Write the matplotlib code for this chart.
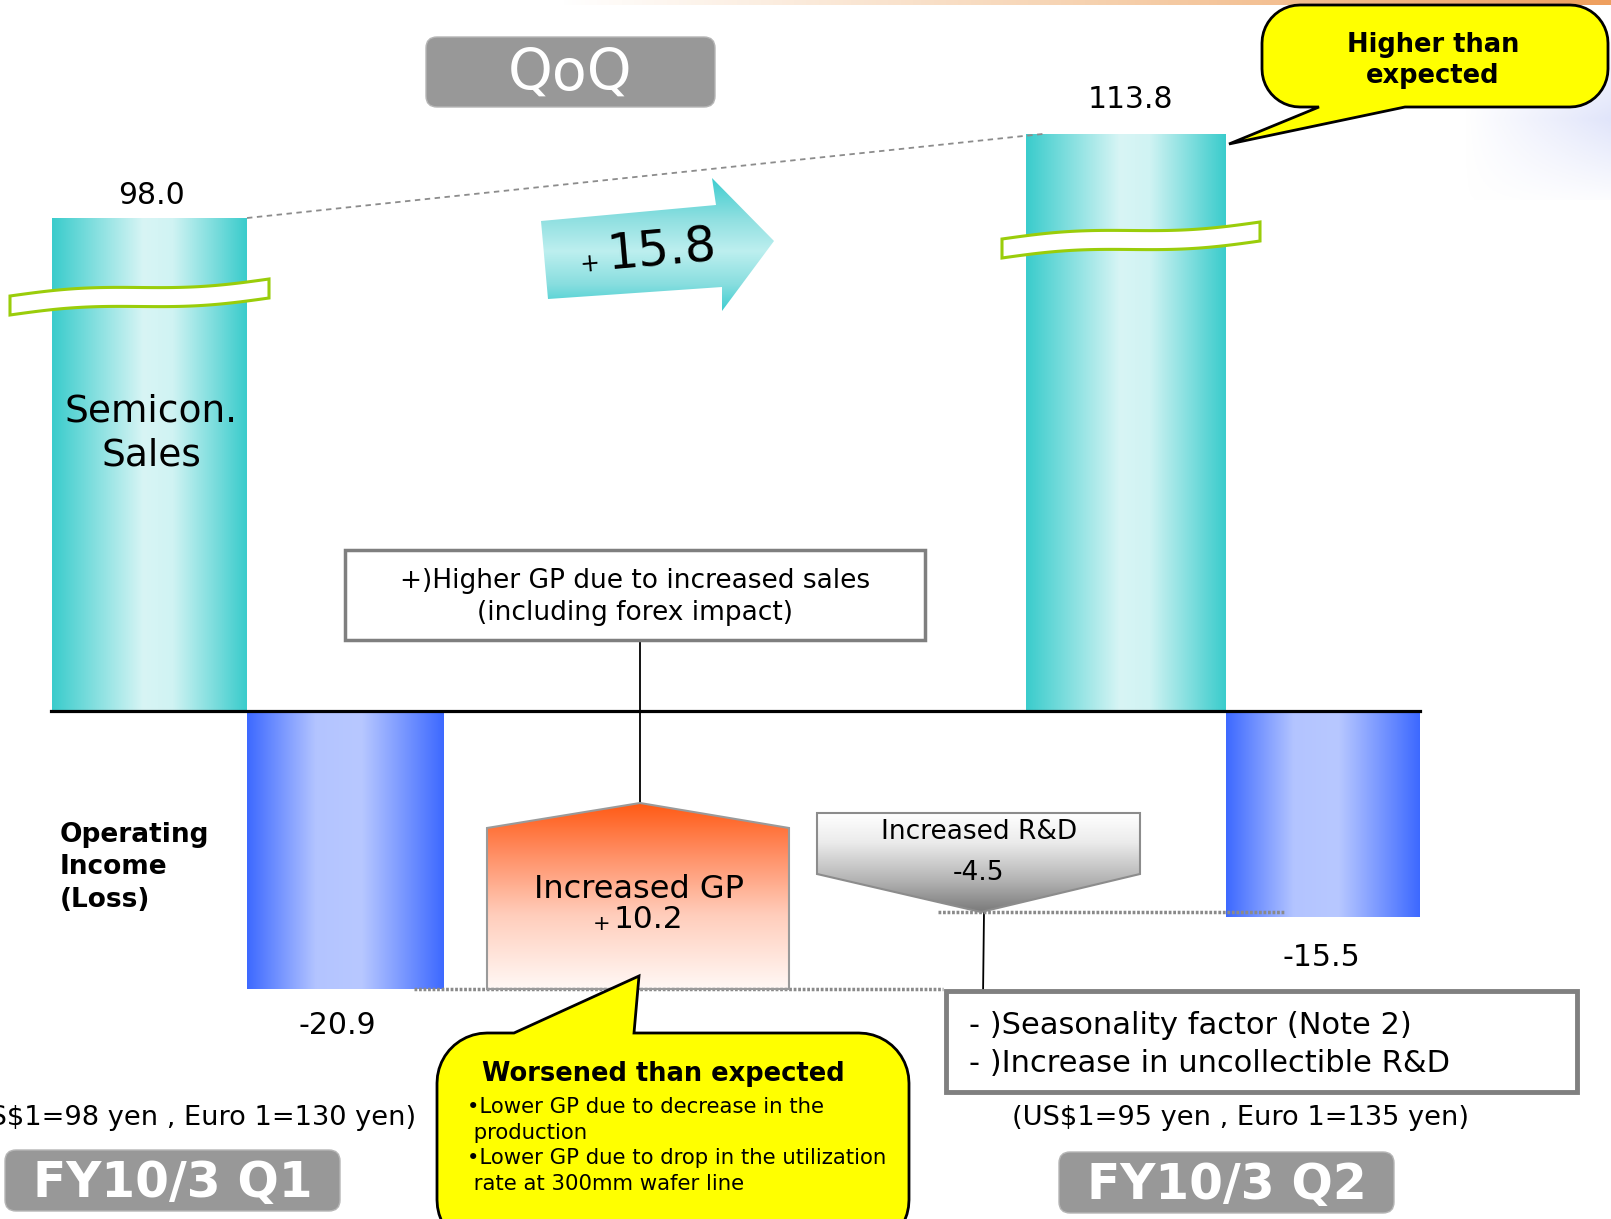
import numpy as np
import matplotlib
matplotlib.use("Agg")
import matplotlib.pyplot as plt
from matplotlib.colors import LinearSegmentedColormap
from matplotlib.patches import Polygon, Rectangle, FancyBboxPatch

# ---- data (100 million yen) ----
periods = ["FY10/3 Q1", "FY10/3 Q2"]
sales = np.array([98.0, 113.8])
op_income = np.array([-20.9, -15.5])
sales_change = 15.8
gp_change = 10.2
rd_change = -4.5
fx_rates = ["(US$1=98 yen , Euro 1=130 yen)", "(US$1=95 yen , Euro 1=135 yen)"]
gp_note = ["+)Higher GP due to increased sales", "(including forex impact)"]
rd_note = ["- )Seasonality factor (Note 2)", "- )Increase in uncollectible R&D"]
worse_bullets = ["\u2022Lower GP due to decrease in the", " production",
                 "\u2022Lower GP due to drop in the utilization", " rate at 300mm wafer line"]

W, H = 1611, 1219
BASE_Y = 711          # zero line (pixels)
K_OP = 13.3           # px per unit, operating income
K_SALES = 5.32        # px per unit above the break
SALES_H0 = 493        # px height of first sales bar (broken axis)

fig = plt.figure(figsize=(W / 100, H / 100), dpi=100)
ax = fig.add_axes([0, 0, 1, 1])
ax.set_xlim(0, W)
ax.set_ylim(H, 0)
ax.axis("off")


def grad(patch, stops, x0, x1, y0, y1, horiz=True, z=2):
    cmap = LinearSegmentedColormap.from_list("g", stops)
    v = np.linspace(0, 1, 256)
    arr = v[None, :] if horiz else v[:, None]
    im = ax.imshow(arr, cmap=cmap, extent=(x0, x1, y1, y0), aspect="auto",
                   interpolation="bilinear", zorder=z)
    im.set_clip_path(patch)


def rounded(x0, y0, x1, y1, r, tail=None, edge="top"):
    pts = []
    def arc(cx, cy, a0, a1):
        for a in np.radians(np.linspace(a0, a1, 12)):
            pts.append((cx + r * np.cos(a), cy + r * np.sin(a)))
    arc(x0 + r, y0 + r, 180, 270)
    if tail and edge == "top":
        pts += [(tail[0], y0), tail[2], (tail[1], y0)]
    arc(x1 - r, y0 + r, 270, 360)
    arc(x1 - r, y1 - r, 0, 90)
    if tail and edge == "bottom":
        pts += [(tail[1], y1), tail[2], (tail[0], y1)]
    arc(x0 + r, y1 - r, 90, 180)
    return pts


def break_band(xl, xr, yl, yr, th):
    t = np.linspace(0, 1, 80)
    x = xl + (xr - xl) * t
    ytop = yl + (yr - yl) * (t + 0.18 * np.sin(2 * np.pi * t))
    pts = list(zip(x, ytop)) + list(zip(x[::-1], ytop[::-1] + th))
    ax.add_patch(Polygon(pts, closed=True, fc="white", ec="#9ACD0A", lw=2.2, zorder=4))


# background decoration at the top
top = np.linspace(0, 1, 256)[None, :]
ax.imshow(top, cmap=LinearSegmentedColormap.from_list("o", ["#FFFFFF", "#F6D2B0", "#EE9F5E"]),
          extent=(560, W, 5, 0), aspect="auto", zorder=0)
rgba = np.zeros((100, 100, 4))
rgba[..., :3] = [0.80, 0.83, 0.97]
yy, xx = np.mgrid[0:1:100j, 0:1:100j]
rgba[..., 3] = np.clip(xx * 1.3 - 0.3, 0, 1) * np.clip(1 - np.abs(yy - 0.55) * 2, 0, 1) * 0.6
ax.imshow(rgba, extent=(1420, W, 200, 20), aspect="auto", zorder=0)

# ---- sales bars (broken axis) ----
sales_px = SALES_H0 + (sales - sales[0]) * K_SALES
cyan = [(0, "#3ACCCC"), (0.47, "#D8F5F5"), (0.62, "#D0F3F3"), (1, "#3ACCCC")]
bars = ax.bar([52, 1026], -sales_px, width=[195, 200], bottom=BASE_Y, align="edge",
              color="none", lw=0, zorder=2)
for b in bars:
    x0, w, y, h = b.get_x(), b.get_width(), b.get_y(), b.get_height()
    grad(b, cyan, x0, x0 + w, y + h, y)

# ---- operating income bars ----
blue = [(0, "#3D69FF"), (0.35, "#B3C4FF"), (0.58, "#B8C8FF"), (1, "#3D69FF")]
obars = ax.bar([247, 1226], -op_income * K_OP, width=[197, 194], bottom=BASE_Y, align="edge",
               color="none", lw=0, zorder=2)
for b in obars:
    x0, w, y, h = b.get_x(), b.get_width(), b.get_y(), b.get_height()
    grad(b, blue, x0, x0 + w, y, y + h)

ax.plot([51, 1420], [BASE_Y, BASE_Y], color="black", lw=2.3, zorder=3)

break_band(10, 269, 296, 279, 19)
break_band(1002, 1260, 239, 222, 19)

# dashed link between sales tops
ax.plot([52 + 195, 1043], [BASE_Y - sales_px[0], BASE_Y - sales_px[1]],
        color="#8C8C8C", lw=1.3, ls=(0, (3, 2.5)), zorder=3)

# value labels
for x, y, s in [(152, 195, f"{sales[0]:.1f}"), (1130, 99, f"{sales[1]:.1f}"),
                (337, 1025, f"{op_income[0]:.1f}"), (1321, 958, f"{op_income[1]:.1f}")]:
    ax.text(x, y, s, fontsize=21.5, ha="center", va="center", zorder=6)

ax.text(151, 412, "Semicon.", fontsize=27, ha="center", va="center", zorder=6)
ax.text(151, 456, "Sales", fontsize=27, ha="center", va="center", zorder=6)
for i, s in enumerate(["Operating", "Income", "(Loss)"]):
    ax.text(60, 835 + i * 32.5, s, fontsize=19, fontweight="bold", ha="left", va="center", zorder=6)

# QoQ and period tags
for (x0, y0, x1, y1), s, fs, fw in [((426, 37, 715, 107), "QoQ", 41, "normal"),
                                    ((5, 1150, 340, 1211), periods[0], 35, "bold"),
                                    ((1059, 1152, 1394, 1213), periods[1], 35, "bold")]:
    ax.add_patch(FancyBboxPatch((x0, y0), x1 - x0, y1 - y0, boxstyle="round,pad=0,rounding_size=11",
                                fc="#989898", ec="#B5B5B5", lw=1, zorder=5))
    ax.text((x0 + x1) / 2, (y0 + y1) / 2 + 2, s, fontsize=fs, fontweight=fw, color="white",
            ha="center", va="center", zorder=6)

# +15.8 arrow
arrow = Polygon([(541, 221), (716, 205), (712, 178), (774, 241), (722, 311), (722, 287), (548, 299)],
                closed=True, fc="none", lw=0, zorder=3)
ax.add_patch(arrow)
grad(arrow, [(0, "#3ECDD0"), (0.3, "#8EDFE0"), (0.55, "#BDEFEF"), (0.8, "#88DEDF"), (1, "#3ECDD0")],
     541, 774, 178, 311, horiz=False, z=3)
ax.text(662, 251, f"{sales_change:.1f}", fontsize=35.5, rotation=5, rotation_mode="anchor",
        ha="center", va="center", zorder=6)
ax.text(590, 264, "+", fontsize=17, rotation=5, ha="center", va="center", zorder=6)

# GP note box and connector
ax.add_patch(Rectangle((345, 550), 580, 90, fc="white", ec="#7F7F7F", lw=2.5, zorder=5))
ax.text(635, 581, gp_note[0], fontsize=19, ha="center", va="center", zorder=6)
ax.text(635, 613, gp_note[1], fontsize=19, ha="center", va="center", zorder=6)
ax.plot([640, 640], [640, 803], color="black", lw=1.3, zorder=3)

# GP step (pentagon)
gp_bottom = BASE_Y - op_income[0] * K_OP
gp = Polygon([(487, gp_bottom), (487, 828), (640, 803), (789, 828), (789, gp_bottom)],
             closed=True, fc="none", ec="#9A9A9A", lw=1.5, zorder=4)
ax.add_patch(gp)
grad(gp, [(0, "#FF5A14"), (0.25, "#FF8A5E"), (0.6, "#FFCDBB"), (1, "#FFF8F5")],
     487, 789, 803, gp_bottom, horiz=False, z=3)
ax.text(639, 890, "Increased GP", fontsize=23, ha="center", va="center", zorder=6)
ax.text(648, 920, f"{gp_change:.1f}", fontsize=22.5, ha="center", va="center", zorder=6)
ax.text(602, 924, "+", fontsize=15, ha="center", va="center", zorder=6)

# R&D step (down arrow)
rd = Polygon([(817, 813), (1140, 813), (1140, 874), (981, 912), (817, 874)],
             closed=True, fc="none", ec="#8C8C8C", lw=1.5, zorder=4)
ax.add_patch(rd)
grad(rd, [(0, "#FFFFFF"), (0.3, "#EBEBEB"), (0.7, "#B0B0B0"), (1, "#7A7A7A")],
     817, 1140, 813, 912, horiz=False, z=3)
ax.text(979, 832, "Increased R&D", fontsize=19, ha="center", va="center", zorder=6)
ax.text(979, 873, f"{rd_change:.1f}", fontsize=19, ha="center", va="center", zorder=6)
ax.plot([984, 983], [912, 997], color="black", lw=1.3, zorder=3)

# dotted level lines
ax.plot([414, 943], [gp_bottom, gp_bottom], color="#8A8A8A", lw=2.5, ls=(0, (0.8, 0.5)), zorder=3)
ax.plot([938, 1284], [912, 912], color="#8A8A8A", lw=2.5, ls=(0, (0.8, 0.5)), zorder=3)

# R&D note box
ax.add_patch(Rectangle((946, 991), 631, 101, fc="white", ec="#808080", lw=3.5, zorder=5))
ax.text(969, 1025, rd_note[0], fontsize=22, ha="left", va="center", zorder=6)
ax.text(969, 1063, rd_note[1], fontsize=22, ha="left", va="center", zorder=6)

# exchange rates
ax.text(416, 1118, fx_rates[0], fontsize=19.6, ha="right", va="center", zorder=6)
ax.text(1241, 1118, fx_rates[1], fontsize=19.6, ha="center", va="center", zorder=6)

# callouts
c1 = rounded(1262, 5, 1608, 107, 38, tail=(1319, 1405, (1229, 144)), edge="bottom")
ax.add_patch(Polygon(c1, closed=True, fc="#FFFF00", ec="black", lw=2, zorder=5))
ax.text(1433, 45, "Higher than", fontsize=18.5, fontweight="bold", ha="center", va="center", zorder=6)
ax.text(1433, 76, "expected", fontsize=18.5, fontweight="bold", ha="center", va="center", zorder=6)

c2 = rounded(437, 1033, 909, 1250, 50, tail=(514, 634, (639, 976)), edge="top")
ax.add_patch(Polygon(c2, closed=True, fc="#FFFF00", ec="black", lw=2, zorder=5))
ax.text(663, 1074, "Worsened than expected", fontsize=18.5, fontweight="bold",
        ha="center", va="center", zorder=6)
for i, s in enumerate(worse_bullets):
    ax.text(467, 1107 + i * 25.7, s, fontsize=15.3, ha="left", va="center", zorder=6)

fig.savefig("out.png", dpi=100)
